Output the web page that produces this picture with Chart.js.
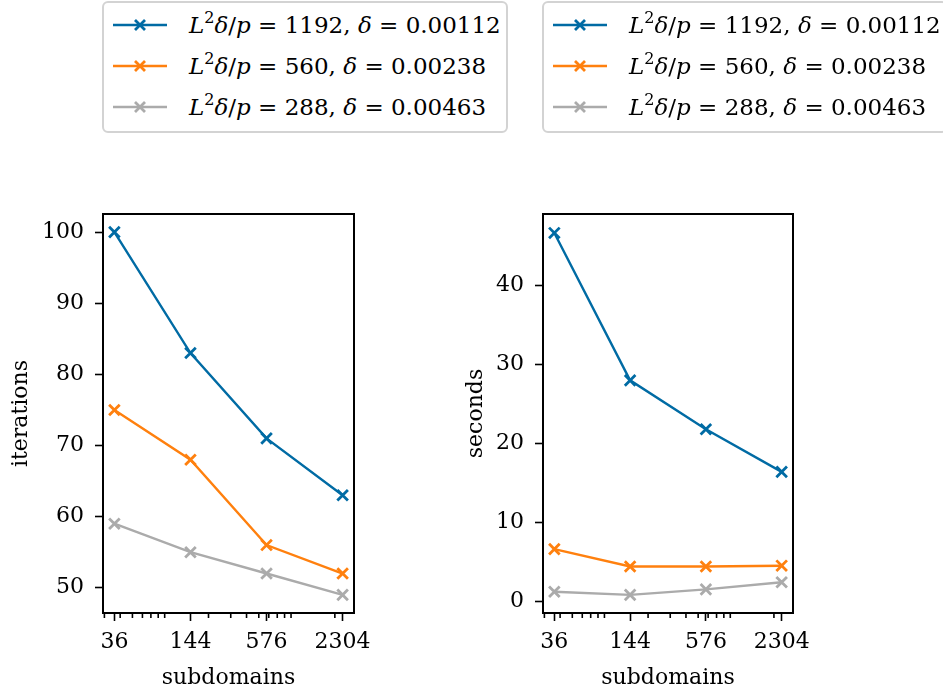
<!DOCTYPE html>
<html>
<head>
<meta charset="utf-8">
<script src="https://cdn.jsdelivr.net/npm/chart.js@4/dist/chart.umd.min.js"></script>
<style>
  body { margin: 0; background: #fff; width: 943px; height: 693px; overflow: hidden; position: relative; font-family: "DejaVu Serif", serif; }
  canvas { position: absolute; top: 0; }
  #c1 { left: 0; }
  #c2 { left: 450px; }
  .legend { position: absolute; top: 1px; width: 402px; height: 128px; border: 2px solid #d3d3d3; border-radius: 6px; background: #fff; }
  .row { position: absolute; left: 8px; height: 40px; display: flex; align-items: center; white-space: nowrap; font-size: 23px; color: #000; }
  .row svg { margin-right: 21px; }
  .row sup { font-size: 16px; vertical-align: 10px; line-height: 0; }
</style>
</head>
<body>
<canvas id="c1" width="450" height="693"></canvas>
<canvas id="c2" width="493" height="693"></canvas>
<div class="legend" id="leg1" style="left:102px"></div>
<div class="legend" id="leg2" style="left:542px"></div>
<script>
// data
const subdomains = [36, 144, 576, 2304];
const minorTicks = [30, 40, 50, 60, 70, 80, 90, 200, 300, 400, 500, 600, 700, 800, 900, 2000];

const iter1192 = [100, 83, 71, 63];
const iter560 = [75, 68, 56, 52];
const iter288 = [59, 55, 52, 49];

const sec1192 = [46.7, 28.0, 21.8, 16.4];
const sec560 = [6.6, 4.4, 4.4, 4.5];
const sec288 = [1.2, 0.8, 1.5, 2.4];

const seriesNames = [
  ['1192', '0.00112'],
  ['560', '0.00238'],
  ['288', '0.00463']
];
const colors = ['#006BA4', '#FF800E', '#ABABAB'];

const font = { family: 'DejaVu Serif', size: 22 };

function points(vals) {
  return subdomains.map((x, i) => ({ x: x, y: vals[i] }));
}

function dataset(vals, i) {
  return {
    label: 'L²δ/p = ' + seriesNames[i][0] + ', δ = ' + seriesNames[i][1],
    data: points(vals),
    borderColor: colors[i],
    backgroundColor: colors[i],
    borderWidth: 2.4,
    pointStyle: 'crossRot',
    pointRadius: 7.5,
    pointBorderWidth: 2.8,
    tension: 0
  };
}

// full box around the plot + short minor ticks on the log axis
const framePlugin = {
  id: 'frame',
  afterDraw(chart) {
    const ctx = chart.ctx;
    const a = chart.chartArea;
    const x = chart.scales.x;
    ctx.save();
    ctx.strokeStyle = '#000';
    ctx.lineWidth = 1.6;
    minorTicks.forEach(v => {
      const px = x.getPixelForValue(v);
      if (px >= a.left && px <= a.right) {
        ctx.beginPath();
        ctx.moveTo(px, a.bottom);
        ctx.lineTo(px, a.bottom + 5);
        ctx.stroke();
      }
    });
    ctx.lineWidth = 2;
    ctx.strokeRect(a.left, a.top, a.right - a.left, a.bottom - a.top);
    ctx.restore();
  }
};

function makeChart(id, sets, yTitle, yMin, yMax, yWidth, padRight, titlePad) {
  return new Chart(document.getElementById(id), {
    type: 'line',
    data: { datasets: sets },
    options: {
      responsive: false,
      animation: false,
      layout: { padding: { top: 214, right: padRight, bottom: 0, left: 0 } },
      plugins: { legend: { display: false }, tooltip: { enabled: false } },
      scales: {
        x: {
          type: 'logarithmic',
          min: 29.25,
          max: 2835,
          afterBuildTicks: s => { s.ticks = subdomains.map(v => ({ value: v })); },
          afterFit: s => { s.height = 80; },
          ticks: { color: '#000', font: font, padding: 8, maxRotation: 0, autoSkip: false, callback: v => String(v) },
          grid: { drawOnChartArea: false, color: '#000', tickLength: 8, tickWidth: 1.6 },
          border: { display: false },
          title: { display: true, text: 'subdomains', color: '#000', font: font, padding: { top: 0, bottom: 2 } }
        },
        y: {
          min: yMin,
          max: yMax,
          afterFit: s => { s.width = yWidth; },
          ticks: { color: '#000', font: font, padding: 11, stepSize: 10, includeBounds: false },
          grid: { drawOnChartArea: false, color: '#000', tickLength: 8, tickWidth: 1.6 },
          border: { display: false },
          title: { display: true, text: yTitle, color: '#000', font: font, padding: { top: titlePad, bottom: 0 } }
        }
      }
    },
    plugins: [framePlugin]
  });
}

makeChart('c1', [dataset(iter1192, 0), dataset(iter560, 1), dataset(iter288, 2)],
  'iterations', 46.45, 102.55, 103, 96, 8);
makeChart('c2', [dataset(sec1192, 0), dataset(sec560, 1), dataset(sec288, 2)],
  'seconds', -1.5, 49.1, 93, 150, 13);

// legends with math-style labels
function fillLegend(el) {
  seriesNames.forEach((n, i) => {
    const row = document.createElement('div');
    row.className = 'row';
    row.style.top = (2 + i * 41) + 'px';
    const c = colors[i];
    row.innerHTML =
      '<svg width="56" height="16"><line x1="1" y1="8" x2="55" y2="8" stroke="' + c + '" stroke-width="2.4"/>' +
      '<path d="M23 3 L33 13 M33 3 L23 13" stroke="' + c + '" stroke-width="2.8"/></svg>' +
      '<span><i>L</i><sup>2</sup><i>δ</i>/<i>p</i> = ' + n[0] + ', <i>δ</i> = ' + n[1] + '</span>';
    el.appendChild(row);
  });
}
fillLegend(document.getElementById('leg1'));
fillLegend(document.getElementById('leg2'));
</script>
</body>
</html>
